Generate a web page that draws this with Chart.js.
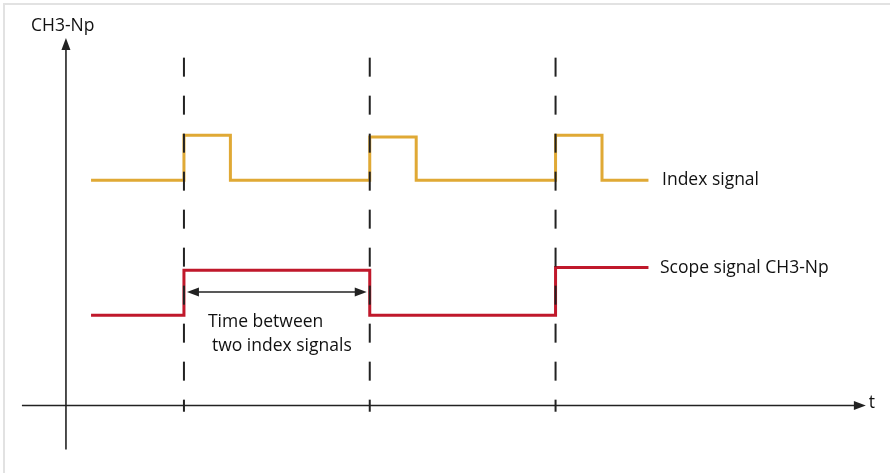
<!DOCTYPE html>
<html>
<head>
<meta charset="utf-8">
<script src="https://cdn.jsdelivr.net/npm/chart.js@4"></script>
<style>
  html, body { margin: 0; padding: 0; background: #fff; }
  #wrap { position: relative; width: 890px; height: 473px; }
</style>
</head>
<body>
<div id="wrap"><canvas id="myChart"></canvas></div>
<script>
// time of the index pulses (dashed markers)
const markers = [1, 2, 3];

// index signal: edges in time and the level after each edge
const indexEdges  = [0.5, 1, 1.25, 2, 2.25, 3, 3.25, 3.5];
const indexLevels = [2.5, 3.0, 2.5, 2.98, 2.5, 3.0, 2.5, 2.5];

// scope signal CH3-Np
const scopeEdges  = [0.5, 1, 2, 3, 3.5];
const scopeLevels = [1.0, 1.5, 1.0, 1.53, 1.53];

const labels = {
    yTitle: "CH3-Np",
    xTitle: "t",
    index: "Index signal",
    scope: "Scope signal CH3-Np",
    span: ["Time between", "two index signals"]
};

const ORANGE = "#e0a935";
const RED = "#c0182b";
const INK = "#222";
const FONT = '17.5px "Open Sans"';

let toPts = function(xs, ys){
    return xs.map((x, i) => ({x: x, y: ys[i]}));
};

// dashed vertical markers, drawn on top of the signals
let markerSets = markers.map(m => ({
    data: [{x: m, y: 3.86}, {x: m, y: -0.07}],
    borderColor: INK,
    borderWidth: 2,
    borderDash: [19, 19],
    pointRadius: 0,
    order: 0
}));

// draws the axes with arrows, the double arrow and the texts
const diagramPlugin = {
    id: "diagram",
    beforeDraw(chart){
        let c = chart.ctx;
        c.save();
        c.fillStyle = "#fff";
        c.fillRect(0, 0, chart.width, chart.height);
        // light frame at the top and left
        c.strokeStyle = "#e2e2e2";
        c.lineWidth = 2;
        c.beginPath();
        c.moveTo(4, chart.height);
        c.lineTo(4, 4);
        c.lineTo(chart.width, 4);
        c.stroke();
        c.restore();
    },
    afterDatasetsDraw(chart){
        let c = chart.ctx;
        let xs = chart.scales.x, ys = chart.scales.y;
        let px = v => xs.getPixelForValue(v);
        let py = v => ys.getPixelForValue(v);

        let arrow = function(x, y, dx, dy){
            // arrow head pointing in direction (dx,dy) with tip at x,y
            let len = 12, half = 4.5;
            let nx = -dy, ny = dx;
            c.beginPath();
            c.moveTo(x, y);
            c.lineTo(x - dx*len + nx*half, y - dy*len + ny*half);
            c.lineTo(x - dx*len - nx*half, y - dy*len - ny*half);
            c.closePath();
            c.fill();
        };

        c.save();
        c.strokeStyle = INK;
        c.fillStyle = INK;
        c.lineWidth = 1.6;

        // x axis
        let y0 = py(0);
        let xStart = px(0.128), xEnd = px(4.67);
        c.beginPath();
        c.moveTo(xStart, y0);
        c.lineTo(xEnd - 8, y0);
        c.stroke();
        arrow(xEnd, y0, 1, 0);

        // y axis
        let x0 = px(0.365);
        let yTop = py(4.078);
        c.beginPath();
        c.moveTo(x0, py(-0.49));
        c.lineTo(x0, yTop + 8);
        c.stroke();
        arrow(x0, yTop, 0, -1);

        // double arrow between the first two index pulses
        let ya = py(1.259);
        let a1 = px(markers[0]) + 3, a2 = px(markers[1]) - 3;
        c.lineWidth = 1.4;
        c.beginPath();
        c.moveTo(a1 + 8, ya);
        c.lineTo(a2 - 8, ya);
        c.stroke();
        arrow(a1, ya, -1, 0);
        arrow(a2, ya, 1, 0);

        // texts
        c.font = FONT;
        c.fillStyle = "#111";
        c.textBaseline = "middle";
        c.textAlign = "left";
        c.fillText(labels.yTitle, px(0.177), py(4.211));
        c.fillText(labels.xTitle, px(4.685), py(0.03));
        c.fillText(labels.index, px(3.573), py(indexLevels[indexLevels.length - 1]));
        c.fillText(labels.scope, px(3.562), py(scopeLevels[scopeLevels.length - 1]));
        c.fillText(labels.span[0], px(1.129), py(0.926));
        c.fillText(labels.span[1], px(1.151), py(0.66));
        c.restore();
    }
};

let ctx = document.getElementById("myChart").getContext("2d");
let chart = new Chart(ctx, {
    type: "line",
    data: {
        datasets: markerSets.concat([
            {
                label: labels.index,
                data: toPts(indexEdges, indexLevels),
                borderColor: ORANGE,
                borderWidth: 3,
                stepped: "before",
                pointRadius: 0,
                borderJoinStyle: "miter",
                order: 1
            },
            {
                label: labels.scope,
                data: toPts(scopeEdges, scopeLevels),
                borderColor: RED,
                borderWidth: 3,
                stepped: "before",
                pointRadius: 0,
                borderJoinStyle: "miter",
                order: 1
            }
        ])
    },
    options: {
        responsive: true,
        maintainAspectRatio: false,
        animation: false,
        clip: false,
        layout: {padding: 0},
        plugins: {
            legend: {display: false},
            tooltip: {enabled: false}
        },
        scales: {
            x: {type: "linear", min: 0.01, max: 4.8, display: false},
            y: {type: "linear", min: -0.75, max: 4.5, display: false}
        }
    },
    plugins: [diagramPlugin]
});
</script>
</body>
</html>
